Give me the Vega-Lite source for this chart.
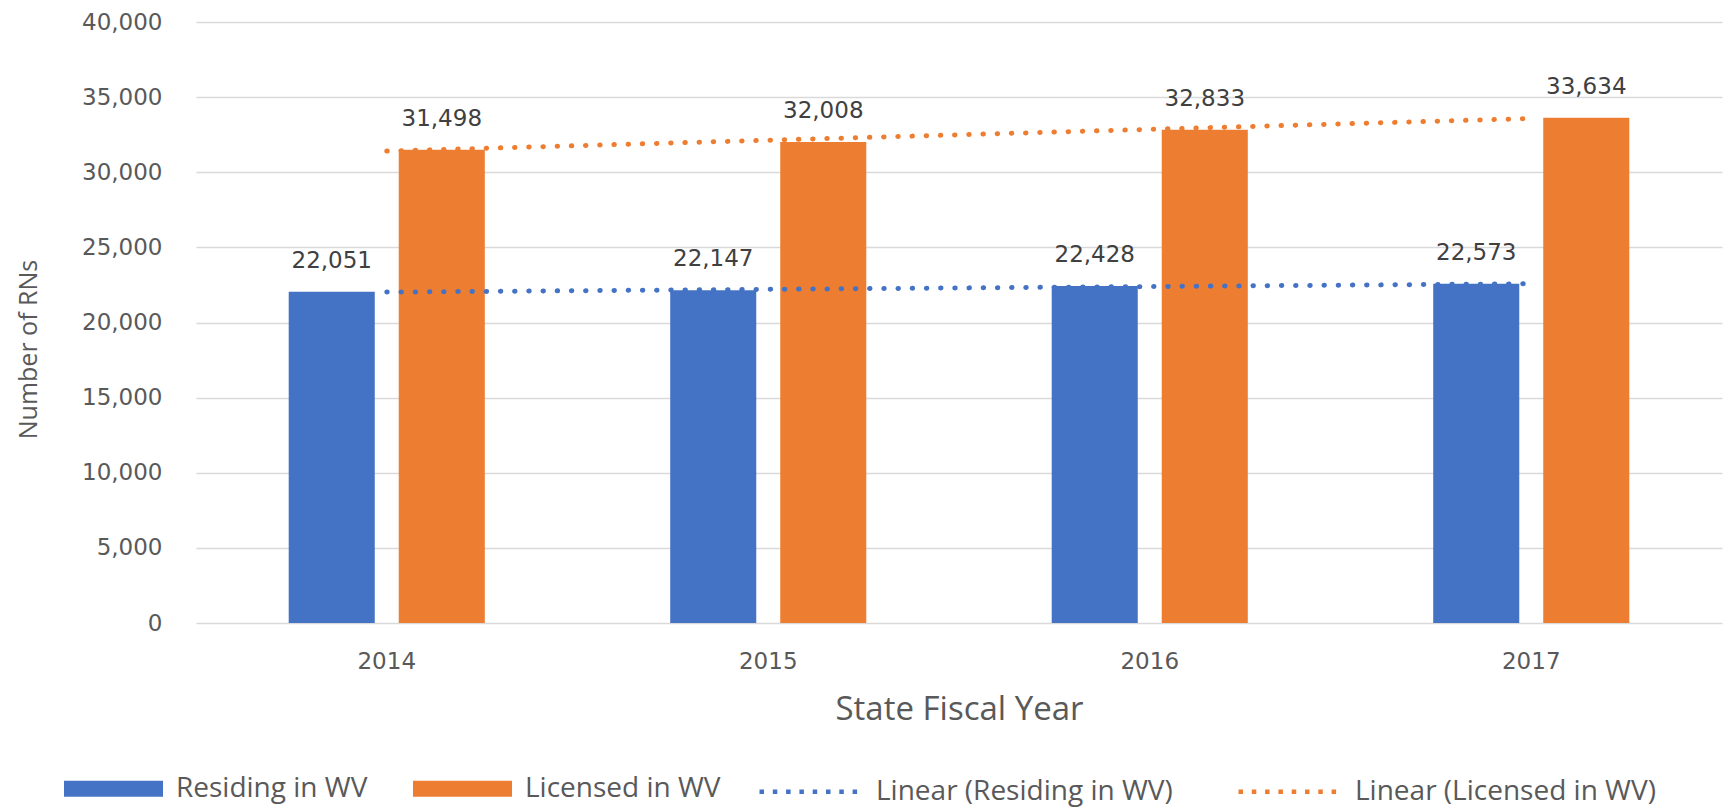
{
  "$schema": "https://vega.github.io/schema/vega-lite/v6.json",
  "width": 1526,
  "height": 601,
  "autosize": {"type": "none"},
  "padding": {"left": 196, "top": 22, "right": 7, "bottom": 187},
  "background": "white",
  "config": {"view": {"stroke": null}, "font": "DejaVu Sans"},
  "datasets": {
    "bars": [
      {"year": "2014", "series": "Residing in WV", "value": 22051},
      {"year": "2014", "series": "Licensed in WV", "value": 31498},
      {"year": "2015", "series": "Residing in WV", "value": 22147},
      {"year": "2015", "series": "Licensed in WV", "value": 32008},
      {"year": "2016", "series": "Residing in WV", "value": 22428},
      {"year": "2016", "series": "Licensed in WV", "value": 32833},
      {"year": "2017", "series": "Residing in WV", "value": 22573},
      {"year": "2017", "series": "Licensed in WV", "value": 33634}
    ],
    "trend": [
      {"year": "2014", "series": "Linear (Residing in WV)", "value": 22023},
      {"year": "2015", "series": "Linear (Residing in WV)", "value": 22207},
      {"year": "2016", "series": "Linear (Residing in WV)", "value": 22392},
      {"year": "2017", "series": "Linear (Residing in WV)", "value": 22577},
      {"year": "2014", "series": "Linear (Licensed in WV)", "value": 31408},
      {"year": "2015", "series": "Linear (Licensed in WV)", "value": 32132},
      {"year": "2016", "series": "Linear (Licensed in WV)", "value": 32855},
      {"year": "2017", "series": "Linear (Licensed in WV)", "value": 33578}
    ]
  },
  "layer": [
    {
      "data": {"name": "bars"},
      "mark": {"type": "bar"},
      "encoding": {
        "x": {
          "field": "year",
          "type": "nominal",
          "scale": {"paddingInner": 0.486, "paddingOuter": 0.243},
          "axis": {
            "title": "State Fiscal Year",
            "titleFont": "Open Sans",
            "titleFontSize": 33,
            "titleFontWeight": "normal",
            "titleColor": "#595959",
            "titleY": 86,
            "titleBaseline": "middle",
            "labelAngle": 0,
            "labelFont": "DejaVu Sans",
            "labelFontSize": 23,
            "labelColor": "#595959",
            "labelPadding": 27,
            "ticks": false,
            "domain": false,
            "grid": false
          }
        },
        "y": {
          "field": "value",
          "type": "quantitative",
          "scale": {"domain": [0, 40000], "nice": false},
          "axis": {
            "title": "Number of RNs",
            "titleFont": "Open Sans",
            "titleFontSize": 25,
            "titleFontWeight": "normal",
            "titleColor": "#595959",
            "titleAngle": -90,
            "titleX": -168,
            "titleY": 327,
            "titleAlign": "center",
            "titleBaseline": "middle",
            "labelFont": "DejaVu Sans",
            "labelFontSize": 23,
            "labelColor": "#595959",
            "labelPadding": 34,
            "values": [0, 5000, 10000, 15000, 20000, 25000, 30000, 35000, 40000],
            "format": ",d",
            "ticks": false,
            "domain": false,
            "grid": true,
            "gridColor": "#D9D9D9",
            "gridWidth": 1.5
          }
        },
        "xOffset": {
          "field": "series",
          "type": "nominal",
          "sort": ["Residing in WV", "Licensed in WV"],
          "scale": {"paddingInner": 0.218, "paddingOuter": 0}
        },
        "fill": {
          "field": "series",
          "type": "nominal",
          "scale": {
            "domain": ["Residing in WV", "Licensed in WV"],
            "range": ["#4472C4", "#ED7D31"]
          },
          "legend": {
            "orient": "none",
            "legendX": -132,
            "legendY": 717,
            "direction": "horizontal",
            "columns": 2,
            "title": null,
            "labelFont": "Open Sans",
            "labelFontSize": 28,
            "labelColor": "#595959",
            "labelLimit": 0,
            "symbolType": "M-1,-0.162H1V0.162H-1Z",
            "symbolSize": 9801,
            "symbolStrokeWidth": 0,
            "symbolOpacity": 1,
            "labelOffset": 13,
            "columnPadding": 45
          }
        }
      }
    },
    {
      "data": {"name": "trend"},
      "mark": {"type": "line", "strokeDash": [0.5, 13.7], "strokeCap": "round", "strokeWidth": 5},
      "encoding": {
        "x": {"field": "year", "type": "nominal"},
        "y": {"field": "value", "type": "quantitative"},
        "stroke": {
          "field": "series",
          "type": "nominal",
          "scale": {
            "domain": ["Linear (Residing in WV)", "Linear (Licensed in WV)"],
            "range": ["#4472C4", "#ED7D31"]
          },
          "legend": {
            "orient": "none",
            "legendX": 561,
            "legendY": 716,
            "direction": "horizontal",
            "columns": 2,
            "title": null,
            "labelFont": "Open Sans",
            "labelFontSize": 28,
            "labelColor": "#595959",
            "labelLimit": 0,
            "symbolType": "stroke",
            "symbolSize": 10404,
            "symbolStrokeWidth": 4.5,
            "symbolDash": [4.5, 8.8],
            "symbolOpacity": 1,
            "labelOffset": 12,
            "columnPadding": 56
          }
        }
      }
    },
    {
      "data": {"name": "bars"},
      "mark": {"type": "text", "baseline": "alphabetic", "dy": -24, "font": "DejaVu Sans", "fontSize": 23, "color": "#404040"},
      "encoding": {
        "x": {"field": "year", "type": "nominal"},
        "y": {"field": "value", "type": "quantitative"},
        "xOffset": {"field": "series", "type": "nominal", "sort": ["Residing in WV", "Licensed in WV"]},
        "text": {"field": "value", "type": "quantitative", "format": ","}
      }
    }
  ]
}
